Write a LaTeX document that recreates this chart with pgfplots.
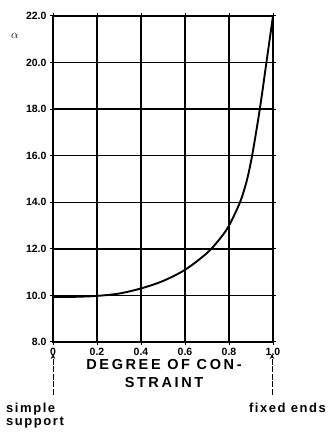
\documentclass[border=0pt]{standalone}
\usepackage{pgfplots}
\pgfplotsset{compat=1.18}
\usepackage{fontspec}
\setmainfont{Liberation Sans}
\usetikzlibrary{arrows.meta}
\begin{document}
\begin{tikzpicture}[x=1pt,y=1pt]
\useasboundingbox (0,0) rectangle (333,438);
\begin{axis}[
  at={(53pt,96pt)}, anchor=south west,
  width=220pt, height=326pt, scale only axis,
  xmin=0, xmax=1, ymin=8, ymax=22,
  xtick={0,0.2,0.4,0.6,0.8,1.0},
  xticklabels={0,0.2,0.4,0.6,0.8,1.0},
  ytick={8,10,12,14,16,18,20,22},
  yticklabel style={/pgf/number format/fixed,/pgf/number format/fixed zerofill,/pgf/number format/precision=1},
  /pgf/number format/assume math mode=true,
  ticklabel style={font=\bfseries\fontsize{10.5}{11}\selectfont},
  tick align=outside, major tick length=3pt,
  tick style={black, line width=1pt},
  grid=major,
  major grid style={black, line width=1.4pt},
  axis line style={black, line width=1.6pt},
  clip=false,
]
\addplot[black, line width=1.9pt, smooth] coordinates {
(0,9.93) (0.1,9.94) (0.2,9.98) (0.3,10.08) (0.4,10.3) (0.5,10.62) (0.6,11.1)
(0.7,11.82) (0.76,12.45) (0.8,13.0) (0.85,14.0) (0.88,14.9) (0.905,16.0)
(0.94,18.0) (0.97,20.0) (1.0,22.0)
};
\end{axis}
\node at (15,402) {\large$\alpha$};
\node[font=\bfseries\fontsize{14.5}{18}\selectfont\addfontfeature{LetterSpace=18}, align=center, inner sep=0pt]
  at (164,64) {DEGREE OF CON-\\STRAINT};
\draw[line width=1pt, dash pattern=on 6pt off 1.5pt, -{Stealth[length=5pt,width=4.5pt]}] (53,43) -- (53,84);
\draw[line width=1pt, dash pattern=on 6pt off 1.5pt, -{Stealth[length=5pt,width=4.5pt]}] (272,43) -- (272,84);
\node[font=\bfseries\fontsize{13}{14}\selectfont\addfontfeature{LetterSpace=12}, align=left, anchor=north west, inner sep=0pt]
  at (6,35) {simple\\[-1pt]support};
\node[font=\bfseries\fontsize{13}{14}\selectfont\addfontfeature{LetterSpace=12}, anchor=north east, inner sep=0pt]
  at (326,35) {fixed ends};
\end{tikzpicture}
\end{document}
